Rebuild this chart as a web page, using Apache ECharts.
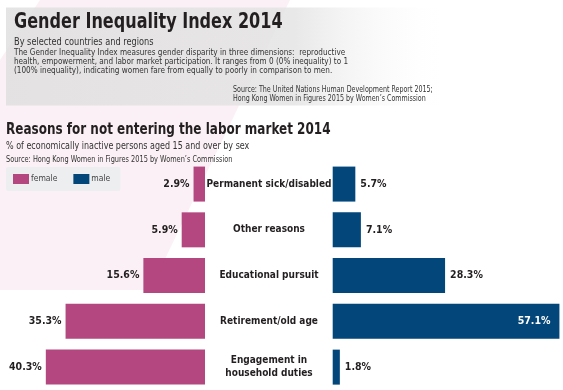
<!DOCTYPE html>
<html>
<head>
<meta charset="utf-8">
<script src="https://cdn.jsdelivr.net/npm/echarts@6/dist/echarts.min.js"></script>
<style>
html,body{margin:0;padding:0;background:#fff;}
#chart{width:563px;height:390px;}
</style>
</head>
<body>
<div id="chart"></div>
<script>
// ---- data ----
var categories = ['Permanent sick/disabled', 'Other reasons', 'Educational pursuit', 'Retirement/old age', 'Engagement in\nhousehold duties'];
var femaleValues = [2.9, 5.9, 15.6, 35.3, 40.3];
var maleValues = [5.7, 7.1, 28.3, 57.1, 1.8];
var seriesNames = ['female', 'male'];

var FONT = "'Liberation Sans Narrow', 'DejaVu Sans Condensed', sans-serif";
var FEMALE = '#b4477f';
var MALE = '#03467a';
var INK = '#231f20';

var chart = echarts.init(document.getElementById('chart'), null, {renderer: 'canvas'});

function txt(x, y, text, size, weight, color, sx) {
  return {
    type: 'text', z: 5, silent: true,
    x: x, y: y, scaleX: sx || 0.87,
    style: {
      x: 0, y: 0, text: text, fill: color || INK,
      font: (weight || 'normal') + ' ' + size + 'px ' + FONT,
      align: 'left', verticalAlign: 'middle'
    }
  };
}

var maleData = maleValues.map(function (v) {
  if (v > 50) {
    return {value: v, label: {position: 'insideRight', distance: 9, color: '#fff'}};
  }
  return v;
});

var option = {
  backgroundColor: '#fff',
  animation: false,
  textStyle: {fontFamily: FONT},
  graphic: [
    {type: 'polygon', z: 0, silent: true,
     shape: {points: [[40, 0], [290, 0], [150, 290], [0, 290], [0, 60]]},
     style: {fill: 'rgba(190,70,130,0.08)'}},
    {type: 'rect', z: 1, silent: true,
     shape: {x: 6, y: 7.5, width: 445, height: 98},
     style: {fill: new echarts.graphic.LinearGradient(0, 0, 1, 0, [
       {offset: 0, color: 'rgba(222,222,222,0.8)'},
       {offset: 0.65, color: 'rgba(228,228,228,0.85)'},
       {offset: 1, color: 'rgba(255,255,255,0)'}
     ])}},
    txt(14, 23, 'Gender Inequality Index 2014', 21, 'bold', INK, 0.85),
    txt(14, 42, 'By selected countries and regions', 10.5, 'normal', '#333', 0.87),
    txt(14, 52.3, 'The Gender Inequality Index measures gender disparity in three dimensions:  reproductive', 9, 'normal', '#333', 0.9),
    txt(14, 61.7, 'health, empowerment, and labor market participation. It ranges from 0 (0% inequality) to 1', 9, 'normal', '#333', 0.9),
    txt(14, 70.7, '(100% inequality), indicating women fare from equally to poorly in comparison to men.', 9, 'normal', '#333', 0.9),
    txt(233, 89.3, 'Source: The United Nations Human Development Report 2015;', 8.5, 'normal', '#333', 0.83),
    txt(233, 98.7, 'Hong Kong Women in Figures 2015 by Women\u2019s Commission', 8.5, 'normal', '#333', 0.83),
    txt(6, 130, 'Reasons for not entering the labor market 2014', 15, 'bold', INK, 0.89),
    txt(6, 146.7, '% of economically inactive persons aged 15 and over by sex', 10, 'normal', '#333', 0.89),
    txt(6, 159.3, 'Source: Hong Kong Women in Figures 2015 by Women\u2019s Commission', 8.5, 'normal', '#333', 0.86)
  ],
  legend: {
    data: seriesNames,
    left: 6, top: 167,
    padding: [7, 10, 7, 7],
    backgroundColor: '#eceef0',
    borderRadius: 2,
    itemWidth: 16, itemHeight: 10, itemGap: 16,
    icon: 'rect',
    textStyle: {fontFamily: FONT, fontSize: 8.5, color: '#444', padding: [0, 0, 0, -3]}
  },
  grid: [
    {left: 7.5, right: 358, top: 161.2, height: 233, containLabel: false},
    {left: 332.7, right: 0, top: 161.2, height: 233, containLabel: false}
  ],
  xAxis: [
    {type: 'value', gridIndex: 0, min: 0, max: 50, inverse: true, show: false},
    {type: 'value', gridIndex: 1, min: 0, max: 58, show: false}
  ],
  yAxis: [
    {type: 'category', gridIndex: 0, data: categories, inverse: true, position: 'right',
     axisLine: {show: false}, axisTick: {show: false}, splitLine: {show: false},
     axisLabel: {margin: 64, align: 'center', fontFamily: FONT, fontWeight: 'bold', fontSize: 10,
                 color: INK, lineHeight: 13, padding: [0, 0, 3, 0]}},
    {type: 'category', gridIndex: 1, data: categories, inverse: true, show: false}
  ],
  series: [
    {name: seriesNames[0], type: 'bar', xAxisIndex: 0, yAxisIndex: 0, data: femaleValues,
     barWidth: 35, itemStyle: {color: FEMALE},
     label: {show: true, position: 'left', distance: 4, formatter: '{c}%',
             fontFamily: FONT, fontWeight: 'bold', fontSize: 10.5, color: INK}},
    {name: seriesNames[1], type: 'bar', xAxisIndex: 1, yAxisIndex: 1, data: maleData,
     barWidth: 35, itemStyle: {color: MALE},
     label: {show: true, position: 'right', distance: 5, formatter: '{c}%',
             fontFamily: FONT, fontWeight: 'bold', fontSize: 10.5, color: INK}}
  ]
};
chart.setOption(option);
</script>
</body>
</html>
